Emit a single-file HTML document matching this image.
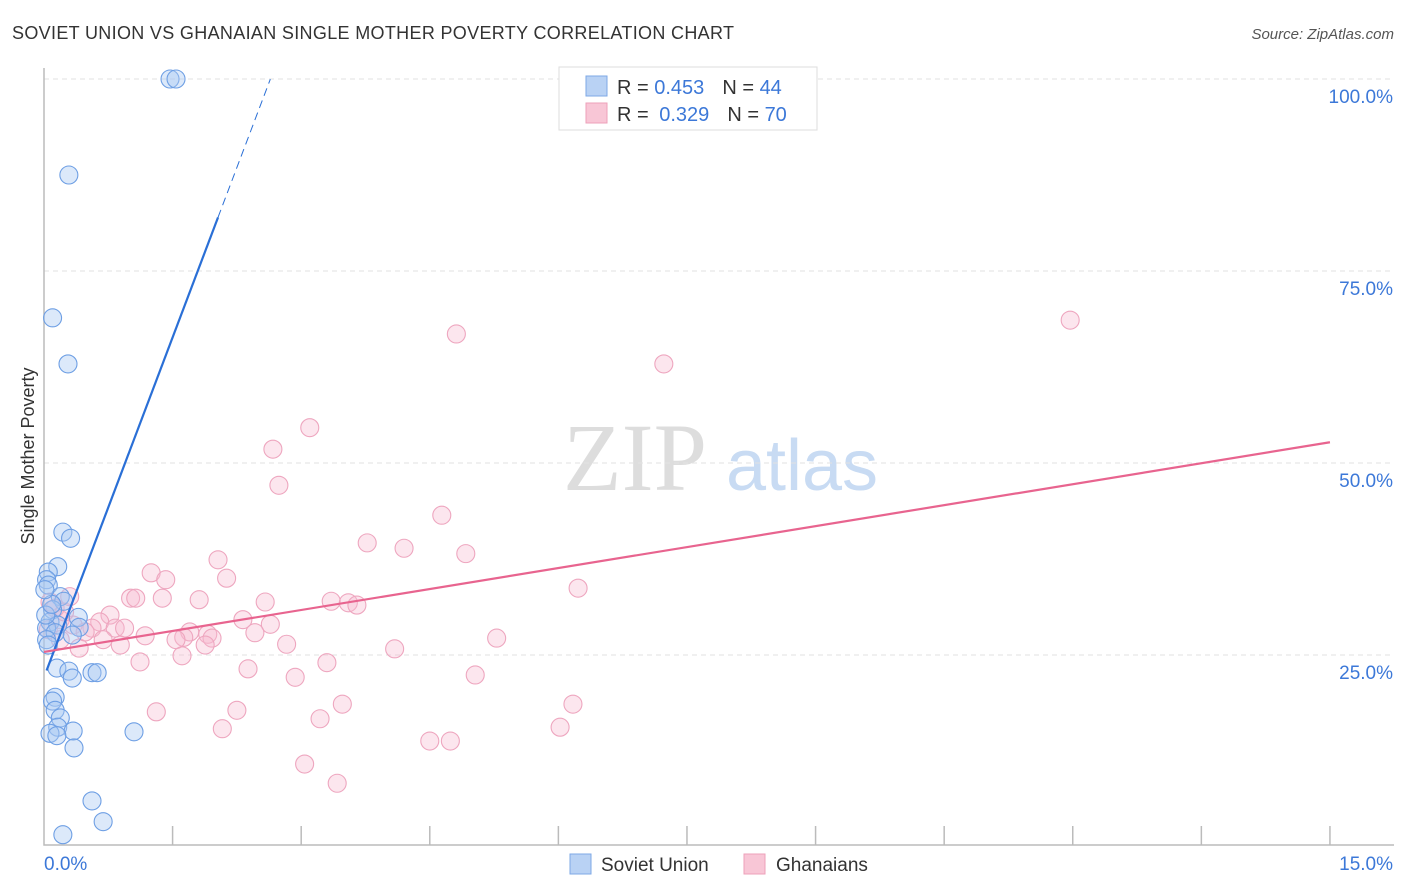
<!DOCTYPE html>
<html><head><meta charset="utf-8">
<style>
body{margin:0;background:#fff;font-family:"Liberation Sans",sans-serif;}
svg{display:block}
</style></head>
<body>
<svg id="chart" width="1406" height="892">
<text x="12" y="39" font-size="18" fill="#333" textLength="722">SOVIET UNION VS GHANAIAN SINGLE MOTHER POVERTY CORRELATION CHART</text>
<text x="1394" y="39" font-size="15" fill="#555" font-style="italic" text-anchor="end">Source: ZipAtlas.com</text>
<text transform="translate(34,456) rotate(-90)" font-size="18" fill="#333" text-anchor="middle">Single Mother Poverty</text>
<g>
<text x="635" y="490" font-size="96" font-family="Liberation Serif,serif" fill="#ddd" text-anchor="middle">ZIP</text>
<text x="802" y="490" font-size="72" fill="#c8dbf3" text-anchor="middle">atlas</text>
</g>
<g id="grid"></g>
<g id="axes"></g>
<g id="pts"></g>
<g id="lines"></g>
<g>
<rect x="559" y="67" width="258" height="63" fill="#fff" stroke="#ddd"/>
<rect x="586" y="76" width="21" height="20" fill="#b9d2f4" stroke="#7ea8e6"/>
<rect x="586" y="103" width="21" height="20" fill="#f8c6d6" stroke="#eea0ba"/>
<text x="617" y="94" font-size="20" fill="#333">R = <tspan fill="#3c78d8">0.453</tspan><tspan dx="18">N = </tspan><tspan fill="#3c78d8">44</tspan></text>
<text x="617" y="121" font-size="20" fill="#333">R = <tspan dx="5" fill="#3c78d8">0.329</tspan><tspan dx="18">N = </tspan><tspan fill="#3c78d8">70</tspan></text>
</g>
<g>
<rect x="570" y="854" width="21" height="20" fill="#b9d2f4" stroke="#7ea8e6"/>
<text x="601" y="871" font-size="19" fill="#333">Soviet Union</text>
<rect x="744" y="854" width="21" height="20" fill="#f8c6d6" stroke="#eea0ba"/>
<text x="776" y="871" font-size="19" fill="#333">Ghanaians</text>
</g>
</svg>
<script>
const blueX=[1.47,1.54,0.29,0.10,0.28,0.22,0.31,0.16,0.05,0.03,0.05,0.19,0.23,0.10,0.40,0.07,0.16,0.03,0.41,0.13,0.33,0.03,0.15,0.29,0.33,0.56,0.62,0.13,0.10,0.13,0.19,0.16,0.07,0.34,0.15,1.05,0.35,0.56,0.69,0.22,0.02,0.05,0.09,0.01];
const blueY=[100,100,87.5,68.9,62.9,41.0,40.2,36.5,35.8,34.8,34.1,32.6,32.0,30.9,29.9,29.3,28.9,28.5,28.6,27.9,27.6,27.0,23.3,22.9,22.0,22.7,22.7,19.5,19.0,17.8,16.8,15.6,14.8,15.1,14.5,15.0,12.9,6.0,3.3,1.6,30.2,26.3,31.6,33.5];
const pinkX=[11.97,4.81,7.23,3.10,2.67,2.74,4.64,3.77,4.20,4.92,2.03,1.25,2.13,1.42,6.23,1.01,1.07,1.38,1.81,2.58,3.35,3.55,3.65,0.77,2.32,2.64,0.65,0.19,0.34,0.56,0.83,0.94,1.18,1.70,1.63,1.54,1.91,1.96,1.88,2.46,2.83,0.41,0.69,0.89,5.28,4.09,1.12,1.61,3.30,2.38,2.93,5.03,6.17,3.48,1.31,2.25,3.22,2.08,6.02,4.50,4.74,3.04,3.42,0.07,0.13,0.05,0.24,0.48,0.30,0.19];
const pinkY=[68.6,66.8,62.9,54.6,51.8,47.1,43.2,39.6,38.9,38.2,37.4,35.7,35.0,34.8,33.7,32.4,32.4,32.4,32.2,31.9,32.0,31.8,31.5,30.2,29.6,29.0,29.3,29.6,28.9,28.5,28.5,28.5,27.5,28.0,27.3,27.0,27.7,27.2,26.3,27.9,26.4,25.9,27.0,26.3,27.2,25.8,24.1,24.9,24.0,23.2,22.1,22.4,18.6,18.6,17.6,17.8,16.7,15.4,15.6,13.8,13.8,10.8,8.3,31.9,31.1,28.3,30.6,28.0,32.6,27.0];
const yTicks=[25,50,75,100];
const yTickLabels=["25.0%","50.0%","75.0%","100.0%"];
const xTicks=[0,1.5,3,4.5,6,7.5,9,10.5,12,13.5,15];
const blueTrend=[22.1,29.5,0.03,2.03,2.64]; // intercept, slope, x0, solid end, dashed end
const pinkTrend=[25.4,1.82,0,15];

const X=v=>44+v*85.73, Y=v=>847-v*7.68;
const NS="http://www.w3.org/2000/svg";
function mk(t,a,p){const e=document.createElementNS(NS,t);for(const k in a)e.setAttribute(k,a[k]);p.appendChild(e);return e;}
const grid=document.getElementById('grid'),axes=document.getElementById('axes'),pts=document.getElementById('pts'),lines=document.getElementById('lines');
yTicks.forEach((t,i)=>{
  const l=mk('line',{x1:44,x2:1394,y1:Y(t),y2:Y(t),stroke:'#e2e2e2','stroke-dasharray':'5,4'},grid);
  
  
  const tx=mk('text',{x:1393,y:Y(t)+24,'font-size':19,fill:'#3c78d8','text-anchor':'end'},axes);
  tx.textContent=yTickLabels[i];
  
  
});
const ax=mk('path',{d:'M44 68 V845 H1394',fill:'none',stroke:'#bbb','stroke-width':1.5},axes);


xTicks.forEach(t=>{
  if(t===0)return;
  const l=mk('line',{x1:X(t),x2:X(t),y1:826,y2:845,stroke:'#bbb','stroke-width':1.5},axes);
  
  
});
const x0=mk('text',{x:44,y:870,'font-size':19,fill:'#3c78d8'},axes);x0.textContent='0.0%';


const x1=mk('text',{x:1393,y:870,'font-size':19,fill:'#3c78d8','text-anchor':'end'},axes);x1.textContent='15.0%';


pinkX.forEach((v,i)=>{
  const c=mk('circle',{cx:X(v),cy:Y(pinkY[i]),r:9,fill:'rgba(248,186,208,0.36)',stroke:'#eea6bf','stroke-width':1.1},pts);
  
  
});
blueX.forEach((v,i)=>{
  const c=mk('circle',{cx:X(v),cy:Y(blueY[i]),r:9,fill:'rgba(168,200,242,0.4)',stroke:'#6e9fe4','stroke-width':1.1},pts);
  
  
});
const bf=x=>blueTrend[0]+blueTrend[1]*x, pf=x=>pinkTrend[0]+pinkTrend[1]*x;
const bl=mk('line',{x1:X(blueTrend[2]),y1:Y(bf(blueTrend[2])),x2:X(blueTrend[3]),y2:Y(bf(blueTrend[3])),stroke:'#2a6fd6','stroke-width':2.2},lines);


const bd=mk('line',{x1:X(blueTrend[3]),y1:Y(bf(blueTrend[3])),x2:X(blueTrend[4]),y2:Y(bf(blueTrend[4])),stroke:'#2a6fd6','stroke-width':1,'stroke-dasharray':'8,5'},lines);


const pl=mk('line',{x1:X(pinkTrend[2]),y1:Y(pf(pinkTrend[2])),x2:X(pinkTrend[3]),y2:Y(pf(pinkTrend[3])),stroke:'#e8648f','stroke-width':2.2},lines);


</script>
</body></html>
